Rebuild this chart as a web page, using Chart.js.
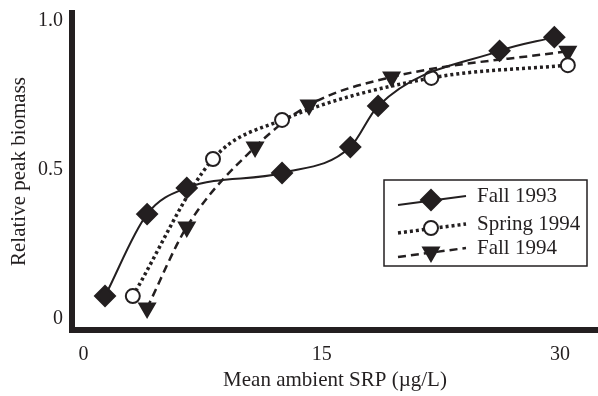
<!DOCTYPE html>
<html>
<head>
<meta charset="utf-8">
<script src="https://cdn.jsdelivr.net/npm/chart.js@4"></script>
<style>
  html, body { margin: 0; padding: 0; background: #fff; }
</style>
</head>
<body>
<canvas id="chart" width="598" height="396"></canvas>
<script>
// Data
const seriesNames = ['Fall 1993', 'Spring 1994', 'Fall 1994'];

const fall1993X = [1.35, 4.0, 6.5, 12.5, 16.8, 18.55, 26.2, 29.65];
const fall1993Y = [0.077, 0.352, 0.44, 0.49, 0.577, 0.715, 0.90, 0.946];

const spring1994X = [3.1, 8.15, 12.5, 21.9, 30.5];
const spring1994Y = [0.077, 0.537, 0.668, 0.809, 0.852];

const fall1994X = [4.0, 6.5, 10.8, 14.2, 19.4, 30.5];
const fall1994Y = [0.037, 0.309, 0.577, 0.718, 0.812, 0.899];

const xTicks = [0, 15, 30];
const yTicks = [0, 0.5, 1.0];
const yTickLabels = ['0', '0.5', '1.0'];

const xTitle = 'Mean ambient SRP (\u00b5g/L)';
const yTitle = 'Relative peak biomass';

// Helpers
const toPoints = (xs, ys) => xs.map((x, i) => ({ x: x, y: ys[i] }));
const serif = 'Liberation Serif';
const ink = '#231f20';

const styles = [
  { pointStyle: 'rectRot', radius: 10, rotation: 0, fill: ink, dash: [], width: 2 },
  { pointStyle: 'circle', radius: 7, rotation: 0, fill: '#fff', dash: [3, 3], width: 3.5 },
  { pointStyle: 'triangle', radius: 9, rotation: 180, fill: ink, dash: [8, 5], width: 2.5 }
];

const makeDataset = (label, xs, ys, s) => ({
  label: label,
  data: toPoints(xs, ys),
  borderColor: ink,
  borderWidth: s.width,
  borderDash: s.dash,
  cubicInterpolationMode: 'monotone',
  pointStyle: s.pointStyle,
  pointRadius: s.radius,
  pointRotation: s.rotation,
  pointBackgroundColor: s.fill,
  pointBorderColor: ink,
  pointBorderWidth: 2,
  clip: false
});

// Legend drawn inside plot area
const boxLegend = {
  id: 'boxLegend',
  afterDatasetsDraw: (chart) => {
    const ctx = chart.ctx;
    const box = { x: 384, y: 180, w: 203, h: 86 };
    const rows = [200, 228, 252];
    ctx.save();
    ctx.fillStyle = '#fff';
    ctx.fillRect(box.x, box.y, box.w, box.h);
    ctx.strokeStyle = ink;
    ctx.lineWidth = 1.5;
    ctx.strokeRect(box.x, box.y, box.w, box.h);

    seriesNames.forEach((name, i) => {
      const s = styles[i];
      const y = rows[i];
      ctx.setLineDash(s.dash);
      ctx.lineWidth = s.width;
      ctx.strokeStyle = ink;
      ctx.beginPath();
      ctx.moveTo(398, y + 5);
      ctx.lineTo(466, y - 4);
      ctx.stroke();
      ctx.setLineDash([]);
      ctx.fillStyle = s.fill;
      ctx.strokeStyle = ink;
      ctx.lineWidth = 2;
      Chart.helpers.drawPoint(ctx, {
        pointStyle: s.pointStyle,
        radius: s.radius,
        rotation: s.rotation,
        borderWidth: 2
      }, 431, y);
      ctx.fillStyle = ink;
      ctx.font = '21px "' + serif + '"';
      ctx.textBaseline = 'middle';
      ctx.fillText(name, 477, y - 4);
    });
    ctx.restore();
  }
};

const renderChart = () => {
  const ctx = document.getElementById('chart');
  new Chart(ctx, {
    type: 'line',
    data: {
      datasets: [
        makeDataset(seriesNames[0], fall1993X, fall1993Y, styles[0]),
        makeDataset(seriesNames[1], spring1994X, spring1994Y, styles[1]),
        makeDataset(seriesNames[2], fall1994X, fall1994Y, styles[2])
      ]
    },
    options: {
      responsive: false,
      animation: false,
      layout: { autoPadding: false, padding: { top: 13, right: 0, left: 0, bottom: 0 } },
      plugins: {
        legend: { display: false },
        tooltip: { enabled: false }
      },
      scales: {
        x: {
          type: 'linear',
          min: -0.73,
          max: 32.4,
          grid: { display: false, drawTicks: false },
          border: { display: true, width: 6, color: ink },
          afterBuildTicks: (scale) => { scale.ticks = xTicks.map(v => ({ value: v })); },
          afterFit: (scale) => {
            scale.height = 66;
            scale.paddingLeft = 0;
            scale.paddingRight = 0;
          },
          ticks: {
            padding: 13,
            color: ink,
            font: { family: serif, size: 20 },
            callback: (v) => String(v)
          },
          title: {
            display: true,
            text: xTitle,
            color: ink,
            font: { family: serif, size: 21 },
            padding: { top: 0, bottom: 3 }
          }
        },
        y: {
          type: 'linear',
          min: -0.037,
          max: 1.027,
          grid: { display: false, drawTicks: false },
          border: { display: true, width: 6, color: ink },
          afterBuildTicks: (scale) => { scale.ticks = yTicks.map(v => ({ value: v })); },
          afterFit: (scale) => {
            scale.width = 72;
            scale.paddingTop = 0;
            scale.paddingBottom = 0;
          },
          ticks: {
            padding: 9,
            color: ink,
            font: { family: serif, size: 20 },
            callback: (v) => yTickLabels[yTicks.indexOf(v)]
          },
          title: {
            display: true,
            text: yTitle,
            color: ink,
            font: { family: serif, size: 21 },
            padding: { top: 7, bottom: 0 }
          }
        }
      }
    },
    plugins: [boxLegend]
  });
};

renderChart();
</script>
</body>
</html>
